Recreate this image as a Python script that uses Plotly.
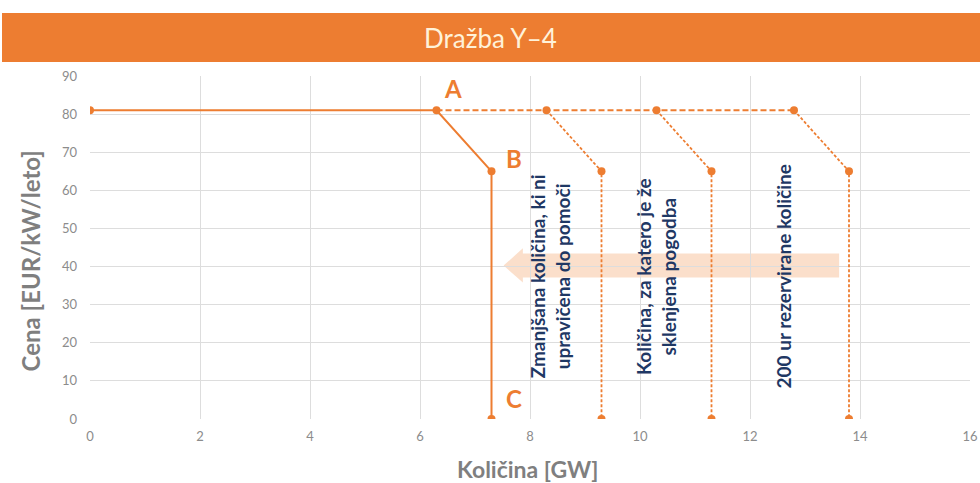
import plotly.graph_objects as go

ORANGE = "#ED7D31"
GRAY = "#7F7F7F"
NAVY = "#1F3864"

# Solid supply curve
solid_x = [0, 6.3, 7.3, 7.3]
solid_y = [81, 81, 65, 0]
# Dashed top horizontal line
top_x = [6.3, 12.8]
top_y = [81, 81]
# Dashed step segments
step1_x = [8.3, 9.3, 9.3]
step1_y = [81, 65, 0]
step2_x = [10.3, 11.3, 11.3]
step2_y = [81, 65, 0]
step3_x = [12.8, 13.8, 13.8]
step3_y = [81, 65, 0]

x_ticks = [0, 2, 4, 6, 8, 10, 12, 14, 16]
y_ticks = [0, 10, 20, 30, 40, 50, 60, 70, 80, 90]

point_labels = ["A", "B", "C"]
point_label_x = [6.6, 7.7, 7.7]
point_label_y = [86.8, 68.4, 5.5]

notes = ["Zmanjšana količina, ki ni<br>upravičena do pomoči",
         "Količina, za katero je že<br>sklenjena pogodba",
         "200 ur rezervirane količine"]
note_x = [8.38, 10.3, 12.6]
note_y = [37.4, 37.4, 37.4]

# arrow (data coords)
arrow_left, arrow_right = 7.52, 13.62
arrow_bottom, arrow_top = 37.1, 43.4
head_len, head_bottom, head_top = 0.35, 35.8, 44.8

fig = go.Figure()
fig.add_trace(go.Scatter(x=solid_x, y=solid_y, mode="lines+markers",
                         line=dict(color=ORANGE, width=2),
                         marker=dict(color=ORANGE, size=8)))
fig.add_trace(go.Scatter(x=top_x, y=top_y, mode="lines",
                         line=dict(color=ORANGE, width=2, dash="6px,3px")))
for sx, sy in [(step1_x, step1_y), (step2_x, step2_y), (step3_x, step3_y)]:
    fig.add_trace(go.Scatter(x=sx, y=sy, mode="lines+markers",
                             line=dict(color=ORANGE, width=1.8, dash="3px,2px"),
                             marker=dict(color=ORANGE, size=8)))

ax = arrow_left + head_len
path = (f"M {arrow_left},{(arrow_bottom+arrow_top)/2} L {ax},{head_top} L {ax},{arrow_top} "
        f"L {arrow_right},{arrow_top} L {arrow_right},{arrow_bottom} L {ax},{arrow_bottom} "
        f"L {ax},{head_bottom} Z")
shapes = [
    dict(type="path", path=path, xref="x", yref="y", fillcolor="rgba(248,196,160,0.55)",
         line=dict(width=0), layer="below"),
    dict(type="rect", xref="paper", yref="paper", x0=-0.1, x1=1.02, y0=1.041, y1=1.184,
         fillcolor=ORANGE, line=dict(width=0), layer="below"),
]

annotations = [
    dict(text="Dražba Y–4", xref="paper", yref="paper", x=0.455, y=1.112, showarrow=False,
         font=dict(family="Lato", size=26, color="#FFF2D9"), xanchor="center", yanchor="middle"),
    dict(text="<b>Cena [EUR/kW/leto]</b>", xref="paper", yref="paper", x=-0.068, y=0.46,
         textangle=-90, showarrow=False, font=dict(family="Lato", size=24, color=GRAY),
         xanchor="center", yanchor="middle"),
    dict(text="<b>Količina [GW]</b>", xref="paper", yref="paper", x=0.497, y=-0.145,
         showarrow=False, font=dict(family="Lato", size=23, color=GRAY),
         xanchor="center", yanchor="middle"),
]
for t, x, y in zip(point_labels, point_label_x, point_label_y):
    annotations.append(dict(text=f"<b>{t}</b>", x=x, y=y, xref="x", yref="y", showarrow=False,
                            font=dict(family="Lato", size=24, color=ORANGE)))
for t, x, y in zip(notes, note_x, note_y):
    annotations.append(dict(text=f"<b>{t}</b>", x=x, y=y, xref="x", yref="y", showarrow=False,
                            textangle=-90, font=dict(family="Lato", size=19, color=NAVY)))

fig.update_layout(
    width=980, height=483,
    margin=dict(l=90, r=10, t=76, b=64),
    paper_bgcolor="white", plot_bgcolor="white",
    showlegend=False,
    shapes=shapes, annotations=annotations,
    xaxis=dict(range=[0, 16], tickvals=x_ticks, showgrid=True, gridcolor="#DDDDDD",
               zeroline=False, showline=False, ticks="", ticklabelstandoff=8, automargin=False,
               tickfont=dict(family="Liberation Sans Narrow, Lato", size=13, color="#8C8C8C")),
    yaxis=dict(range=[0, 90], tickvals=y_ticks, showgrid=True, gridcolor="#DDDDDD",
               zeroline=False, showline=False, ticks="", ticklabelstandoff=12, automargin=False,
               tickfont=dict(family="Liberation Sans Narrow, Lato", size=13, color="#8C8C8C")),
)
fig.write_html("out.html", config={"displayModeBar": False},
               post_script="document.body.style.margin='0';document.body.style.overflow='hidden';")
